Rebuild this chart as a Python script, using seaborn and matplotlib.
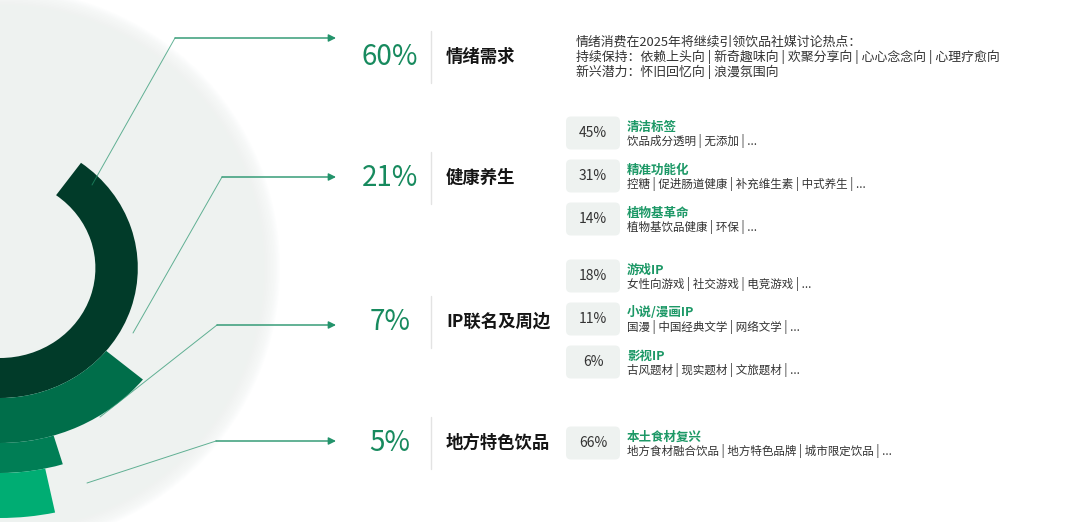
import numpy as np
import matplotlib.pyplot as plt
import seaborn as sns
from matplotlib.patches import Ellipse, FancyBboxPatch

# ---- data ----
categories = ["情绪需求", "健康养生", "IP联名及周边", "地方特色饮品"]
shares = [60, 21, 7, 5]

intro_lines = [
    "情绪消费在2025年将继续引领饮品社媒讨论热点：",
    "持续保持：依赖上头向 | 新奇趣味向 | 欢聚分享向 | 心心念念向 | 心理疗愈向",
    "新兴潜力：怀旧回忆向 | 浪漫氛围向",
]

sub_pcts = [[], [45, 31, 14], [18, 11, 6], [66]]
sub_titles = [[], ["清洁标签", "精准功能化", "植物基革命"],
              ["游戏IP", "小说/漫画IP", "影视IP"], ["本土食材复兴"]]
sub_details = [[],
               ["饮品成分透明 | 无添加 | ...",
                "控糖 | 促进肠道健康 | 补充维生素 | 中式养生 | ...",
                "植物基饮品健康 | 环保 | ..."],
               ["女性向游戏 | 社交游戏 | 电竞游戏 | ...",
                "国漫 | 中国经典文学 | 网络文学 | ...",
                "古风题材 | 现实题材 | 文旅题材 | ..."],
               ["地方食材融合饮品 | 地方特色品牌 | 城市限定饮品 | ..."]]

# ---- style ----
sns.set_theme(style="white")
plt.rcParams['font.family'] = ['Noto Sans CJK SC', 'DejaVu Sans']
palette = sns.color_palette(["#013b29", "#006e4a", "#007e55", "#00ad73"])
green_txt = "#178a5e"
sub_green = "#1c9866"
bg_col = "#eef2f0"

W, H = 1080, 522
fig = plt.figure(figsize=(W / 100, H / 100), dpi=100)
fig.patch.set_facecolor("white")

# ring layout (pixels)
cx, cy = 0, 268          # centre, measured from top
R = 262                  # radial axis limit
sx = 1.06                # slight horizontal stretch of the ring graphic
radii = [(90, 130), (130, 175), (175, 205), (205, 250)]
start = -np.pi / 2
deg_per_pct = 2.4

# background layer: soft-edged disc
bg = fig.add_axes([0, 0, 1, 1], zorder=0)
bg.set_xlim(0, W)
bg.set_ylim(H, 0)
bg.axis("off")
for k in range(20, 0, -1):
    bg.add_patch(Ellipse((cx, cy), 2 * (250 + k * 1.5), 2 * (249 + k * 1.5),
                         color=bg_col, alpha=0.12, lw=0))
bg.add_patch(Ellipse((cx, cy), 2 * 250, 2 * 249, color=bg_col, lw=0))

# radial bars
ax_p = fig.add_axes([(cx - R * sx) / W, (H - cy - R) / H, 2 * R * sx / W, 2 * R / H],
                    projection="polar", zorder=1)
ax_p.set_aspect("auto")
ax_p.set_ylim(0, R)
ax_p.axis("off")
ax_p.patch.set_alpha(0)
for i, v in enumerate(shares):
    span = np.deg2rad(v * deg_per_pct)
    r0, r1 = radii[i]
    ax_p.bar(start + span / 2, r1 - r0, width=span, bottom=r0,
             color=palette[i], edgecolor="none", align="center")

# text / connector layer
ax = fig.add_axes([0, 0, 1, 1], zorder=2)
ax.set_xlim(0, W)
ax.set_ylim(H, 0)
ax.axis("off")

row_y = [57, 178, 322, 443]
sub_center = [None, 176, 319, 443]
connectors = [[(92, 185), (175, 38)], [(133, 333), (222, 177)],
              [(100, 417), (217, 325)], [(87, 483), (216, 441)]]
line_col = "#23936b"

for i, cat in enumerate(categories):
    y = row_y[i]
    (x0, y0), (x1, y1) = connectors[i]
    ax.plot([x0, x1], [y0, y1], color=line_col, lw=0.7, alpha=0.7)
    ax.annotate("", xy=(336, y1), xytext=(x1, y1),
                arrowprops=dict(arrowstyle="-|>", color=line_col, lw=1.0,
                                mutation_scale=11, shrinkA=0, shrinkB=0))

    ax.text(390, y, f"{shares[i]}%", ha="center", va="center",
            fontsize=20, color=green_txt)
    ax.plot([431, 431], [y - 26, y + 26], color="#e3e3e3", lw=1)
    ax.text(446, y, cat, ha="left", va="center", fontsize=12.5,
            fontweight="bold", color="#151515")

    if i == 0:
        for j, line in enumerate(intro_lines):
            ax.text(576, 42 + j * 15, line, ha="left", va="center",
                    fontsize=9.3, color="#333333")
        continue

    n = len(sub_pcts[i])
    for j in range(n):
        yc = sub_center[i] + (j - (n - 1) / 2) * 43
        ax.add_patch(FancyBboxPatch((566, yc - 16.5), 54, 33,
                                    boxstyle="round,pad=0,rounding_size=5",
                                    fc=bg_col, ec="none"))
        ax.text(593, yc, f"{sub_pcts[i][j]}%", ha="center", va="center",
                fontsize=10, color="#333333")
        ax.text(627, yc - 6, sub_titles[i][j], ha="left", va="center",
                fontsize=9, fontweight="bold", color=sub_green)
        ax.text(627, yc + 8, sub_details[i][j], ha="left", va="center",
                fontsize=8.3, color="#333333")

plt.savefig("out.png", dpi=100, facecolor="white")
